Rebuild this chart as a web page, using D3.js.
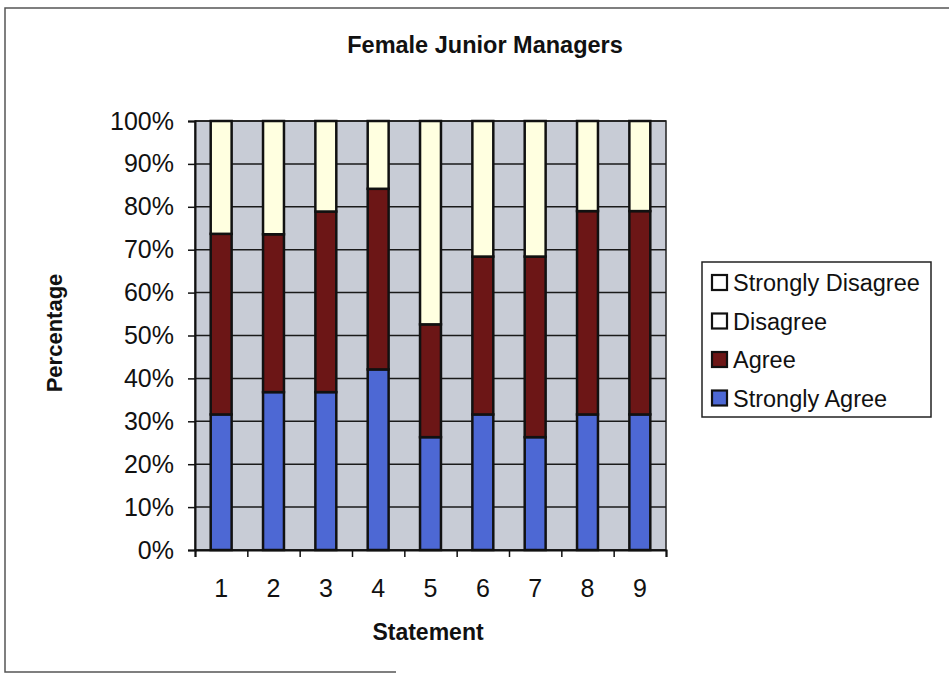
<!DOCTYPE html>
<html>
<head>
<meta charset="utf-8">
<script src="https://cdn.jsdelivr.net/npm/d3@7"></script>
<style>
  html, body { margin: 0; padding: 0; background: #ffffff; }
  svg { display: block; font-family: "Liberation Sans", Arial, sans-serif; }
</style>
</head>
<body>
<svg id="chart" width="949" height="677"></svg>
<script>
// Survey responses per statement, as percentages of respondents
const statements = ["1", "2", "3", "4", "5", "6", "7", "8", "9"];
const stronglyAgree    = [31.6, 36.8, 36.8, 42.1, 26.3, 31.6, 26.3, 31.6, 31.6];
const agree            = [42.1, 36.8, 42.1, 42.1, 26.3, 36.8, 42.1, 47.4, 47.4];
const disagree         = [26.3, 26.4, 21.1, 15.8, 47.4, 31.6, 31.6, 21.0, 21.0];
const stronglyDisagree = [0, 0, 0, 0, 0, 0, 0, 0, 0];

const seriesNames = ["Strongly Agree", "Agree", "Disagree", "Strongly Disagree"];
const seriesColors = {
  "Strongly Agree": "#4d68d4",
  "Agree": "#6c1616",
  "Disagree": "#ffffe0",
  "Strongly Disagree": "#ffffff"
};
const yTicks = d3.range(0, 101, 10);

const rows = statements.map((s, i) => ({
  statement: s,
  "Strongly Agree": stronglyAgree[i],
  "Agree": agree[i],
  "Disagree": disagree[i],
  "Strongly Disagree": stronglyDisagree[i]
}));

const svg = d3.select("#chart");

// outer chart frame
svg.append("path")
  .attr("d", "M960,8 L5,8 L5,672 L396,672")
  .attr("fill", "none")
  .attr("stroke", "#555")
  .attr("stroke-width", 1.5);

const plot = { left: 195, right: 666, top: 121, bottom: 550 };

const x = d3.scaleBand()
  .domain(statements)
  .range([plot.left, plot.right])
  .paddingInner(0.6)
  .paddingOuter(0.3);

const xEdges = d3.scaleLinear()
  .domain([0, statements.length])
  .range([plot.left, plot.right]);

const y = d3.scaleLinear()
  .domain([0, 100])
  .range([plot.bottom, plot.top]);

// plot area background
svg.append("rect")
  .attr("x", plot.left).attr("y", plot.top)
  .attr("width", plot.right - plot.left)
  .attr("height", plot.bottom - plot.top)
  .attr("fill", "#c8ccd6")
  .attr("stroke", "#222")
  .attr("stroke-width", 1.5);

// horizontal gridlines
svg.append("g")
  .selectAll("line")
  .data(yTicks)
  .join("line")
  .attr("x1", plot.left).attr("x2", plot.right)
  .attr("y1", d => y(d)).attr("y2", d => y(d))
  .attr("stroke", "#1a1a1a")
  .attr("stroke-width", 1.5);

// stacked bars
const stacked = d3.stack().keys(seriesNames)(rows);

svg.append("g")
  .selectAll("g")
  .data(stacked)
  .join("g")
  .attr("fill", d => seriesColors[d.key])
  .selectAll("rect")
  .data(d => d.filter(p => p[1] - p[0] > 0))
  .join("rect")
  .attr("x", d => x(d.data.statement))
  .attr("y", d => y(d[1]))
  .attr("width", x.bandwidth())
  .attr("height", d => y(d[0]) - y(d[1]))
  .attr("stroke", "#111")
  .attr("stroke-width", 2.5);

// y axis
const yAxis = svg.append("g")
  .attr("transform", `translate(${plot.left},0)`)
  .call(d3.axisLeft(y).tickValues(yTicks).tickFormat(d => d + "%").tickSize(7).tickPadding(14));
yAxis.select(".domain").attr("stroke", "#111").attr("stroke-width", 2);
yAxis.selectAll(".tick line").attr("stroke", "#111").attr("stroke-width", 1.5);
yAxis.selectAll("text").attr("font-size", 25).attr("fill", "#111");

// x axis: tick marks on category boundaries
const xTickAxis = svg.append("g")
  .attr("transform", `translate(0,${plot.bottom})`)
  .call(d3.axisBottom(xEdges).tickValues(d3.range(0, statements.length + 1)).tickFormat("").tickSize(7));
xTickAxis.select(".domain").attr("stroke", "#111").attr("stroke-width", 2);
xTickAxis.selectAll(".tick line").attr("stroke", "#111").attr("stroke-width", 1.5);

// x axis: category labels
const xLabelAxis = svg.append("g")
  .attr("transform", `translate(0,${plot.bottom})`)
  .call(d3.axisBottom(x).tickSize(0).tickPadding(29));
xLabelAxis.select(".domain").remove();
xLabelAxis.selectAll("text").attr("font-size", 25).attr("fill", "#111");

// titles
svg.append("text")
  .attr("x", 485).attr("y", 53)
  .attr("text-anchor", "middle")
  .attr("font-size", 23.5).attr("font-weight", "bold").attr("fill", "#111")
  .text("Female Junior Managers");

svg.append("text")
  .attr("x", 428).attr("y", 640)
  .attr("text-anchor", "middle")
  .attr("font-size", 23).attr("font-weight", "bold").attr("fill", "#111")
  .text("Statement");

svg.append("text")
  .attr("transform", "translate(62,333) rotate(-90)")
  .attr("text-anchor", "middle")
  .attr("font-size", 22).attr("font-weight", "bold").attr("fill", "#111")
  .text("Percentage");

// legend (top entry is the top of the stack)
const legend = svg.append("g");
legend.append("rect")
  .attr("x", 702).attr("y", 262)
  .attr("width", 229).attr("height", 155)
  .attr("fill", "#ffffff")
  .attr("stroke", "#222")
  .attr("stroke-width", 1.5);

const legendOrder = seriesNames.slice().reverse();
const legendItem = legend.selectAll("g.item")
  .data(legendOrder)
  .join("g")
  .attr("class", "item")
  .attr("transform", (d, i) => `translate(712,${291 + i * 38.5})`);

legendItem.append("rect")
  .attr("x", 0).attr("y", -16)
  .attr("width", 15).attr("height", 15)
  .attr("fill", d => d === "Disagree" ? "#ffffff" : seriesColors[d])
  .attr("stroke", "#111")
  .attr("stroke-width", 2.2);

legendItem.append("text")
  .attr("x", 21).attr("y", 0)
  .attr("font-size", 23.5).attr("fill", "#111")
  .text(d => d);
</script>
</body>
</html>
